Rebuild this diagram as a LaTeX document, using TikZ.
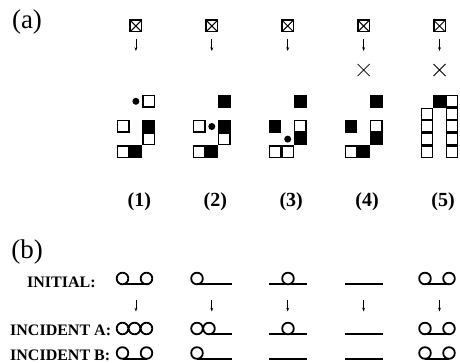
\documentclass[tikz,border=0pt]{standalone}
\usepackage{fontspec}
\setmainfont{Liberation Serif}
\usetikzlibrary{arrows.meta}

\begin{document}
\begin{tikzpicture}[x=1pt,y=-1pt,
    wsq/.style={draw,line width=1.3pt,minimum size=11.3pt,inner sep=0pt,fill=white},
    bsq/.style={wsq,fill=black},
    dot/.style={circle,fill=black,inner sep=0pt,minimum size=7pt},
    xbox/.style={draw,line width=1.5pt,minimum size=11.5pt,inner sep=0pt,
        path picture={\draw[line width=1pt] (path picture bounding box.south west) -- (path picture bounding box.north east)
            (path picture bounding box.north west) -- (path picture bounding box.south east);}},
    arr/.style={line width=0.7pt,-{Stealth[length=3.8pt,width=2.8pt]}},
    strand/.style={line width=1.9pt},
    loopc/.style={line width=1.8pt},
    part/.style={font=\fontsize{27}{30}\selectfont,inner sep=0pt},
    num/.style={font=\fontsize{20}{24}\bfseries\selectfont,inner sep=0pt},
    lbl/.style={font=\fontsize{16}{18}\bfseries\selectfont,anchor=base west,inner sep=0pt}]

                \useasboundingbox (0,0) rectangle (460,363);

                % (a)
                \node[part] (pa) at (27,22) {(a)};
                \node[xbox] (x1) at (135.9,26) {};
                \node[xbox] (x2) at (211.8,26) {};
                \node[xbox] (x3) at (287.7,26) {};
                \node[xbox] (x4) at (363.6,26) {};
                \node[xbox] (x5) at (439.5,26) {};
                \foreach \i/\cx in {1/135.9,2/211.8,3/287.7,4/363.6,5/439.5}{
                    \coordinate (s\i) at (\cx,39);
                    \coordinate (e\i) at (\cx,51);
                    \draw[arr] (s\i) -- (e\i);
                }
                \draw[line width=0.8pt] (357.6,64) -- (369.6,76) (357.6,76) -- (369.6,64);
                \draw[line width=0.8pt] (433.5,64) -- (445.5,76) (433.5,76) -- (445.5,64);

                % grids
                \node[wsq] (g1a) at (148.5,101.3) {};
                \node[dot] (p1) at (135.9,101.3) {};
                \node[wsq] (g1b) at (123.3,126.5) {};
                \node[bsq] (g1c) at (148.5,126.5) {};
                \node[wsq] (g1d) at (148.5,139.1) {};
                \node[wsq] (g1e) at (123.3,151.7) {};
                \node[bsq] (g1f) at (135.9,151.7) {};

                \node[bsq] (g2a) at (224.4,101.3) {};
                \node[wsq] (g2b) at (199.2,126.5) {};
                \node[dot] (p2) at (211.8,126.5) {};
                \node[bsq] (g2c) at (224.4,126.5) {};
                \node[wsq] (g2d) at (224.4,139.1) {};
                \node[wsq] (g2e) at (199.2,151.7) {};
                \node[bsq] (g2f) at (211.8,151.7) {};

                \node[bsq] (g3a) at (300.3,101.3) {};
                \node[bsq] (g3b) at (275.1,126.5) {};
                \node[wsq] (g3c) at (300.3,126.5) {};
                \node[bsq] (g3d) at (300.3,139.1) {};
                \node[dot] (p3) at (287.7,139.1) {};
                \node[wsq] (g3e) at (275.1,151.7) {};
                \node[wsq] (g3f) at (287.7,151.7) {};

                \node[bsq] (g4a) at (376.2,101.3) {};
                \node[bsq] (g4b) at (351.0,126.5) {};
                \node[wsq] (g4c) at (376.2,126.5) {};
                \node[bsq] (g4d) at (376.2,139.1) {};
                \node[wsq] (g4e) at (351.0,151.7) {};
                \node[bsq] (g4f) at (363.6,151.7) {};

                \foreach \y [count=\k] in {151.7,139.1,126.5,113.9}{
                    \node[wsq] (g5l\k) at (426.9,\y) {};
                }
                \foreach \y [count=\k] in {151.7,139.1,126.5,113.9,101.3}{
                    \node[wsq] (g5r\k) at (452.1,\y) {};
                }
                \node[bsq] (g5t) at (439.5,101.3) {};

                \node[num] (n1) at (139.4,202) {(1)};
                \node[num] (n2) at (215.3,202) {(2)};
                \node[num] (n3) at (291.2,202) {(3)};
                \node[num] (n4) at (367.1,202) {(4)};
                \node[num] (n5) at (443.0,202) {(5)};

                % (b)
                \node[part] (pb) at (27,252) {(b)};
                \node[lbl] (li) at (27,287) {INITIAL:};
                \node[lbl] (la) at (10,335) {INCIDENT A:};
                \node[lbl] (lb) at (10,360) {INCIDENT B:};
                \foreach \i/\cx in {1/135.9,2/211.8,3/287.7,4/363.6,5/439.5}{
                    \coordinate (u\i) at (\cx,300);
                    \coordinate (v\i) at (\cx,311.5);
                    \draw[arr] (u\i) -- (v\i);
                }

                % initial
                \draw[loopc] (122.5,278.5) circle (5.8pt) (146.5,278.5) circle (5.8pt);
                \draw[strand] (122.5,284.3) -- (146.5,284.3);
                \draw[loopc] (197,278.5) circle (5.8pt);
                \draw[strand] (197,284.3) -- (232,284.3);
                \draw[strand] (269,284.3) -- (307,284.3);
                \draw[loopc,fill=white] (288,278.5) circle (5.8pt);
                \draw[strand] (345,284.3) -- (383,284.3);
                \draw[loopc] (425,278.5) circle (5.8pt) (449,278.5) circle (5.8pt);
                \draw[strand] (425,284.3) -- (449,284.3);

                % incident a
                \draw[loopc] (122.5,328.5) circle (5.8pt) (134.5,328.5) circle (5.8pt) (146.5,328.5) circle (5.8pt);
                \draw[loopc] (197,328.5) circle (5.8pt) (209,328.5) circle (5.8pt);
                \draw[strand] (209,334.3) -- (232,334.3);
                \draw[strand] (269,334.3) -- (307,334.3);
                \draw[loopc,fill=white] (288,328.5) circle (5.8pt);
                \draw[strand] (345,334.3) -- (383,334.3);
                \draw[loopc] (425,328.5) circle (5.8pt) (449,328.5) circle (5.8pt);
                \draw[strand] (425,334.3) -- (449,334.3);

                % incident b
                \draw[loopc] (122.5,353) circle (5.8pt) (146.5,353) circle (5.8pt);
                \draw[strand] (122.5,358.8) -- (146.5,358.8);
                \draw[loopc] (197,353) circle (5.8pt);
                \draw[strand] (197,358.8) -- (232,358.8);
                \draw[strand] (269,358.8) -- (307,358.8);
                \draw[strand] (345,358.8) -- (383,358.8);
                \draw[loopc] (425,353) circle (5.8pt) (449,353) circle (5.8pt);
                \draw[strand] (425,358.8) -- (449,358.8);
            \end{tikzpicture}
\end{document}
